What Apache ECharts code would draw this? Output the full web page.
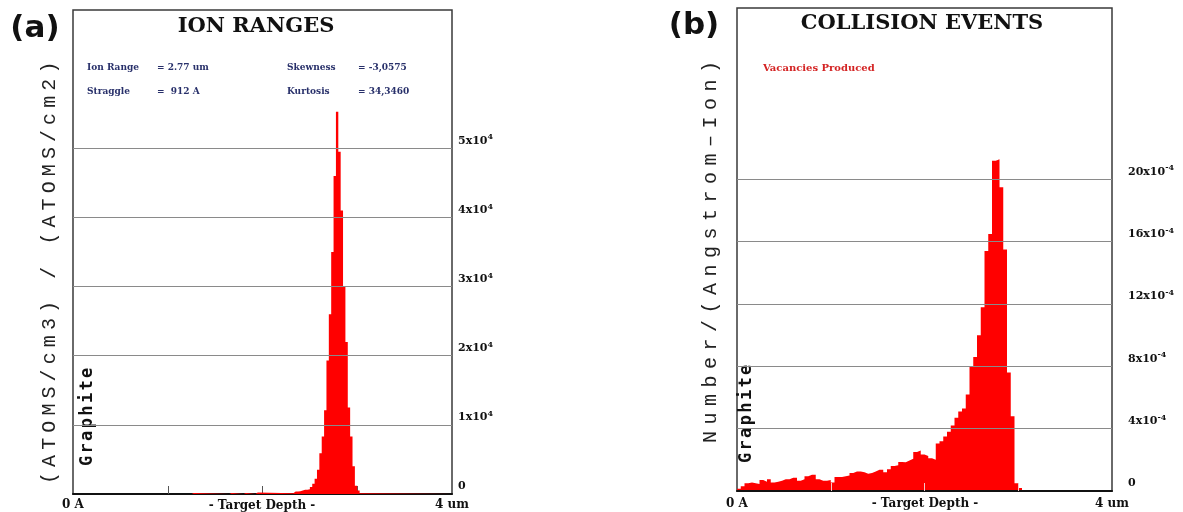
<!DOCTYPE html>
<html><head><meta charset="utf-8">
<script src="https://cdn.jsdelivr.net/npm/echarts@6/dist/echarts.min.js"></script>
<style>html,body{margin:0;padding:0;background:#fff}#c{width:1183px;height:512px}</style>
</head><body><div id="c"></div>
<script>
// ---------- Panel (a): ION RANGES ----------
// bin start depth (um) and ion concentration (x10^4 (atoms/cm3)/(atoms/cm2)); each value holds until the next depth
const ionDepth = [0, 1.25, 1.275, 1.65, 1.675, 1.8, 1.825, 1.925, 1.95, 2.325,
  2.35, 2.375, 2.4, 2.425, 2.45, 2.475, 2.5, 2.525, 2.55, 2.575,
  2.6, 2.625, 2.65, 2.675, 2.7, 2.725, 2.75, 2.775, 2.8, 2.825,
  2.85, 2.875, 2.9, 2.925, 2.95, 2.975, 3.0, 3.025, 3.05, 4.0];
const ionConc = [0, 0.015, 0, 0.015, 0, 0.015, 0, 0.02, 0.01, 0.035,
  0.035, 0.04, 0.05, 0.06, 0.06, 0.07, 0.1, 0.15, 0.22, 0.35,
  0.59, 0.83, 1.21, 1.93, 2.6, 3.5, 4.6, 5.53, 4.95, 4.1,
  3.0, 2.2, 1.25, 0.83, 0.4, 0.12, 0.05, 0.01, 0, 0];
const ionTicks = [0, 1, 2, 3, 4, 5];          // x10^4
const ionStatsLeft = [['Ion Range', '= 2.77 um'], ['Straggle', '=  912 A']];
const ionStatsRight = [['Skewness', '= -3,0575'], ['Kurtosis', '= 34,3460']];

// ---------- Panel (b): COLLISION EVENTS ----------
const vacBin = 0.04; // um per bin
const vacancies = [0.15, 0.3, 0.5, 0.55, 0.5, 0.45, 0.7, 0.6, 0.75, 0.55,
  0.6, 0.65, 0.75, 0.75, 0.85, 0.85, 0.65, 0.75, 0.95, 1.05,
  1.05, 0.75, 0.65, 0.65, 0.7, 0.55, 0.9, 0.9, 0.95, 1.0,
  1.15, 1.25, 1.25, 1.2, 1.1, 1.15, 1.25, 1.37, 1.37, 1.2,
  1.4, 1.6, 1.65, 1.86, 1.85, 1.95, 2.07, 2.5, 2.6, 2.35,
  2.25, 2.1, 2.0, 3.05, 3.2, 3.5, 3.8, 4.2, 4.7, 5.1,
  5.3, 6.2, 8.0, 8.6, 10.0, 11.8, 15.4, 16.5, 21.2, 21.3,
  19.5, 15.5, 7.6, 4.8, 0.5, 0.2, 0];          // x10^-4 number/(Angstrom-Ion)
const vacTicks = [0, 4, 8, 12, 16, 20];      // x10^-4

const depthLabels = {0: '0 A', 4: '4 um'};
const depthName = '- Target Depth -';

function vText(str, x, yFirst, step, font, color) {
  return str.split('').map((ch, i) => ({
    type: 'text', x: x, y: yFirst - i * step, rotation: Math.PI / 2, silent: true,
    style: {text: ch, font: font, fill: color, align: 'center', verticalAlign: 'middle'}
  }));
}
function txt(s, x, y, font, color, align) {
  return {type: 'text', x: x, y: y, silent: true,
    style: {text: s, font: font, fill: color, align: align || 'left', verticalAlign: 'middle'}};
}

const chart = echarts.init(document.getElementById('c'), null, {renderer: 'canvas'});

function xAxisCfg(gridIndex, margin, z, tickColor) {
  return {
    type: 'value', gridIndex: gridIndex, min: 0, max: 4, interval: 1, z: z,
    axisLine: {show: true, lineStyle: {color: '#111', width: 2}},
    axisTick: {show: true, inside: true, length: 8, customValues: [1, 2, 3], lineStyle: {color: tickColor, width: 1}},
    splitLine: {show: false},
    axisLabel: {customValues: [0, 4], margin: margin, formatter: v => depthLabels[v] || '',
      fontFamily: 'DejaVu Serif', fontWeight: 'bold', fontSize: 12, color: '#111'}
  };
}
function yAxisCfg(gridIndex, max, interval, ticks, expo, margin) {
  return {
    type: 'value', gridIndex: gridIndex, position: 'right', min: 0, max: max, interval: interval,
    axisLine: {show: false}, axisTick: {show: false}, splitLine: {show: false},
    axisLabel: {
      margin: margin, align: 'left', verticalAlign: 'bottom',
      formatter: v => (ticks.indexOf(v) < 0 ? '' : (v === 0 ? '{m|0}' : '{m|' + v + 'x10}{s|' + expo + '}')),
      rich: {
        m: {fontFamily: 'DejaVu Serif', fontWeight: 'bold', fontSize: 11, color: '#111', lineHeight: 15},
        s: {fontFamily: 'DejaVu Serif', fontWeight: 'bold', fontSize: 8, color: '#111', verticalAlign: 'top', lineHeight: 15}
      }
    }
  };
}
function gridMarks(ticks) {
  return {
    silent: true, symbol: 'none', animation: false, label: {show: false},
    emphasis: {disabled: true},
    lineStyle: {color: '#8a8a8a', width: 1, type: 'solid'},
    data: ticks.filter(v => v > 0).map(v => ({yAxis: v}))
  };
}

const axisFont = 'bold 12px "DejaVu Serif"';
const graphics = [].concat(
  [txt('(a)', 35, 29, 'bold 31px "DejaVu Sans"', '#111', 'center'),
   txt('(b)', 694, 26, 'bold 31px "DejaVu Sans"', '#111', 'center'),
   txt('ION RANGES', 256, 27, 'bold 21px "DejaVu Serif"', '#111', 'center'),
   txt('COLLISION EVENTS', 922, 24, 'bold 21px "DejaVu Serif"', '#111', 'center'),
   txt('Vacancies Produced', 763, 68, 'bold 10px "DejaVu Serif"', '#d42424', 'left'),
   txt(depthName, 262, 506, axisFont, '#111', 'center'),
   txt(depthName, 925, 504, axisFont, '#111', 'center')],
  ionStatsLeft.map((r, i) => txt(r[0], 87, 68 + i * 24, 'bold 9px "DejaVu Serif"', '#28306a')),
  ionStatsLeft.map((r, i) => txt(r[1], 157, 68 + i * 24, 'bold 9px "DejaVu Serif"', '#28306a')),
  ionStatsRight.map((r, i) => txt(r[0], 287, 68 + i * 24, 'bold 9px "DejaVu Serif"', '#28306a')),
  ionStatsRight.map((r, i) => txt(r[1], 358, 68 + i * 24, 'bold 9px "DejaVu Serif"', '#28306a')),
  vText('(ATOMS/cm3) / (ATOMS/cm2)', 50, 478, 17.1, '20px "Liberation Mono"', '#222'),
  vText('Number/(Angstrom–Ion)', 711, 437, 18.5, '20px "Liberation Mono"', '#222'),
  vText('Graphite', 88, 461, 12.6, 'bold 17px "DejaVu Sans Mono"', '#111'),
  vText('Graphite', 747, 458, 12.6, 'bold 17px "DejaVu Sans Mono"', '#111')
);

chart.setOption({
  animation: false,
  backgroundColor: '#fff',
  grid: [
    {left: 73, top: 10, width: 379, height: 484, outerBoundsMode: 'none', containLabel: false,
      show: true, borderColor: '#3a3a3a', borderWidth: 1.5, backgroundColor: '#fff'},
    {left: 737, top: 8, width: 375, height: 483, outerBoundsMode: 'none', containLabel: false,
      show: true, borderColor: '#3a3a3a', borderWidth: 1.5, backgroundColor: '#fff'}
  ],
  xAxis: [xAxisCfg(0, 5, 0, '#555'), xAxisCfg(1, 7, 3, '#f2c8c8')],
  yAxis: [yAxisCfg(0, 7, 1, ionTicks, '4', 6), yAxisCfg(1, 31, 4, vacTicks, '-4', 16)],
  series: [
    {type: 'line', xAxisIndex: 0, yAxisIndex: 0, step: 'end', symbol: 'none', silent: true,
      data: ionDepth.map((d, i) => [d, ionConc[i]]),
      lineStyle: {width: 0}, areaStyle: {color: '#ff0000', opacity: 1},
      markLine: gridMarks(ionTicks)},
    {type: 'line', xAxisIndex: 1, yAxisIndex: 1, step: 'end', symbol: 'none', silent: true,
      data: vacancies.map((v, i) => [+(i * vacBin).toFixed(2), v]),
      lineStyle: {width: 0}, areaStyle: {color: '#ff0000', opacity: 1},
      markLine: gridMarks(vacTicks)}
  ],
  graphic: graphics
});
</script></body></html>
